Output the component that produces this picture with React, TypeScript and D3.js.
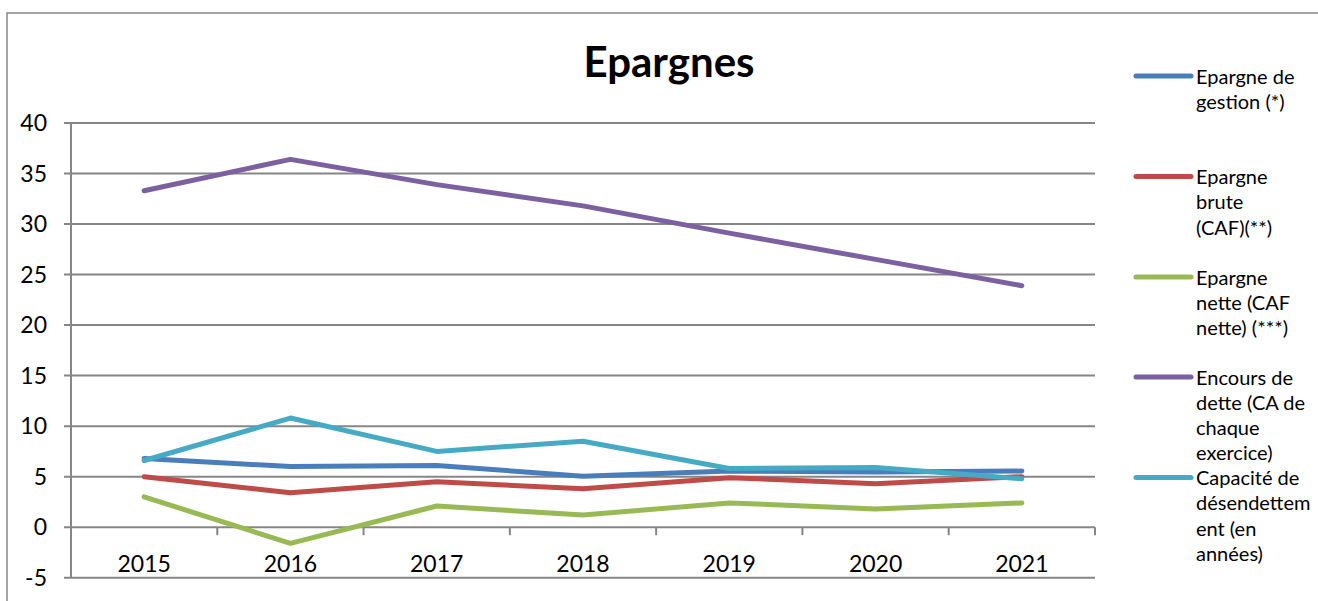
import React from "react";
import * as d3 from "d3";

const years = ["2015", "2016", "2017", "2018", "2019", "2020", "2021"];
const epargneGestion = [6.8, 6.0, 6.1, 5.05, 5.55, 5.45, 5.55];
const epargneBrute = [5.0, 3.4, 4.5, 3.8, 4.9, 4.3, 5.0];
const epargneNette = [3.0, -1.6, 2.1, 1.2, 2.4, 1.8, 2.4];
const encoursDette = [33.3, 36.4, 33.9, 31.8, 29.1, 26.5, 23.9];
const capaciteDesendettement = [6.6, 10.8, 7.5, 8.5, 5.8, 5.9, 4.8];
const yTicks = [-5, 0, 5, 10, 15, 20, 25, 30, 35, 40];

const seriesNames = [
  ["Epargne de", "gestion (*)"],
  ["Epargne", "brute", "(CAF)(**)"],
  ["Epargne", "nette (CAF", "nette) (***)"],
  ["Encours de", "dette (CA de", "chaque", "exercice)"],
  ["Capacité de", "désendettem", "ent (en", "années)"],
];
const seriesValues = [epargneGestion, epargneBrute, epargneNette, encoursDette, capaciteDesendettement];
const seriesColors = ["#4a7ebb", "#be4b48", "#98b954", "#7d60a0", "#46aac5"];
const legendRows = [76, 176.5, 277, 377, 477.5];

const FONT = "Lato, 'DejaVu Sans', sans-serif";
const GRID = "#868686";

export default function App() {
  const W = 1318, H = 601;
  const left = 71, right = 1095, top = 123, bottom = 577.7;
  const x = d3.scaleBand<string>().domain(years).range([left, right]).padding(0);
  const y = d3.scaleLinear().domain([-5, 40]).range([bottom, top]);
  const cx = (d: string) => (x(d) as number) + x.bandwidth() / 2;
  const line = d3
    .line<number>()
    .x((_, i) => cx(years[i]))
    .y((v) => y(v));

  return (
    <svg
      width={W}
      height={H}
      style={{ position: "absolute", left: 0, top: 0, background: "#fff" }}
      fontFamily={FONT}
    >
      <rect x={0} y={0} width={W} height={H} fill="#fff" />
      {/* chart frame */}
      <path d={`M7,${H + 5} V13 H${W + 5}`} fill="none" stroke={GRID} strokeWidth={1.5} />
      {/* title */}
      <text x={669} y={77} textAnchor="middle" fontSize={42} fontWeight="bold" fill="#000">
        Epargnes
      </text>
      {/* gridlines */}
      {yTicks.map((t) => (
        <line key={"g" + t} x1={left - 7} x2={right} y1={y(t)} y2={y(t)} stroke={GRID} strokeWidth={2} />
      ))}
      {/* y axis */}
      <line x1={left} x2={left} y1={top} y2={bottom} stroke={GRID} strokeWidth={2} />
      {yTicks.map((t) => (
        <text key={"yl" + t} x={47} y={y(t) + 8} textAnchor="end" fontSize={23} fill="#000">
          {t}
        </text>
      ))}
      {/* x axis ticks at zero */}
      {years.map((yr) => (
        <line
          key={"xt" + yr}
          x1={(x(yr) as number) + x.bandwidth()}
          x2={(x(yr) as number) + x.bandwidth()}
          y1={y(0)}
          y2={y(0) + 8}
          stroke={GRID}
          strokeWidth={2}
        />
      ))}
      {years.map((yr) => (
        <text key={"xl" + yr} x={cx(yr)} y={572} textAnchor="middle" fontSize={23} fill="#000">
          {yr}
        </text>
      ))}
      {/* series */}
      {seriesValues.map((vals, i) => (
        <path
          key={"s" + i}
          d={line(vals) || ""}
          fill="none"
          stroke={seriesColors[i]}
          strokeWidth={5}
          strokeLinejoin="round"
          strokeLinecap="round"
        />
      ))}
      {/* legend */}
      {seriesNames.map((lines, i) => (
        <g key={"lg" + i}>
          <line
            x1={1136}
            x2={1191}
            y1={legendRows[i]}
            y2={legendRows[i]}
            stroke={seriesColors[i]}
            strokeWidth={5}
            strokeLinecap="round"
          />
          <text x={1196} y={legendRows[i] + 7.5} fontSize={20} fill="#000">
            {lines.map((l, j) => (
              <tspan key={j} x={1196} dy={j === 0 ? 0 : 25.3}>
                {l}
              </tspan>
            ))}
          </text>
        </g>
      ))}
    </svg>
  );
}
